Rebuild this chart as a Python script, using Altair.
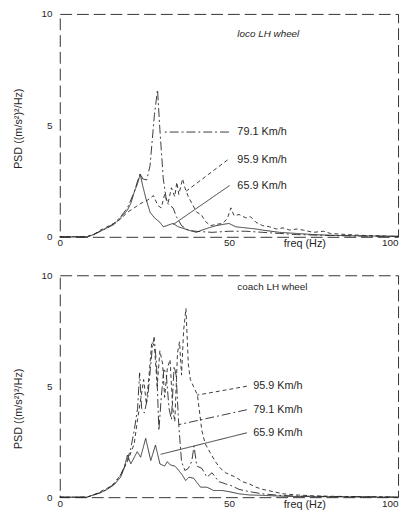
import altair as alt
import pandas as pd

SPEEDS = ["65.9 Km/h", "79.1 Km/h", "95.9 Km/h"]
DASHES = [[1, 0], [9, 3, 2, 3], [4, 3]]

# ---------------- top panel : loco LH wheel ----------------
top_f_659 = [0, 8, 10, 12, 14, 16, 18, 20, 21, 22, 23, 23.8, 24.5, 25.5, 26.7, 28, 29.6, 30.6,
             31.6, 32.5, 33.5, 35, 36.5, 38, 40.4, 42, 44, 46.2, 48, 50, 52, 55, 58, 60, 65,
             70, 75, 80, 85, 90, 95, 100]
top_v_659 = [0, 0, 0.1, 0.25, 0.4, 0.55, 0.85, 1.2, 1.5, 2.0, 2.4, 2.8, 2.3, 1.7, 1.1, 0.85,
             0.65, 0.45, 0.5, 0.55, 0.6, 0.45, 0.38, 0.3, 0.2, 0.3, 0.4, 0.5, 0.55, 0.6, 0.45,
             0.4, 0.35, 0.3, 0.2, 0.15, 0.1, 0.07, 0.05, 0.04, 0.03, 0.02]

top_f_791 = [0, 8, 10, 12, 14, 16, 18, 20, 22, 23, 23.8, 24.5, 25.7, 26.7, 27.2, 28, 28.9,
             29.6, 30.6, 31.6, 32.5, 33.5, 34.5, 36, 38, 40, 45, 50, 55, 60, 65, 70, 80, 90, 100]
top_v_791 = [0, 0, 0.1, 0.25, 0.4, 0.6, 0.9, 1.3, 2.0, 2.5, 2.85, 2.6, 2.55, 3.2, 4.1, 5.5,
             6.6, 4.8, 2.6, 1.55, 1.4, 1.3, 0.9, 0.5, 0.3, 0.25, 0.2, 0.25, 0.25, 0.2, 0.15,
             0.1, 0.06, 0.03, 0.02]

top_f_959 = [0, 8, 10, 12, 14, 16, 18, 20, 22, 24, 26, 27.7, 29, 30, 31, 32, 33, 34, 34.6,
             35.2, 36.3, 37, 38, 39.4, 40.5, 41.8, 43, 44.5, 46, 48, 49.5, 50.6, 51.5, 53, 55,
             56.4, 58, 60, 62, 64, 66, 68, 70, 72, 75, 78, 80, 85, 90, 95, 100]
top_v_959 = [0, 0, 0.1, 0.3, 0.45, 0.6, 0.8, 1.1, 1.3, 1.5, 1.65, 1.85, 1.4, 1.3, 1.9, 1.5,
             2.2, 1.8, 2.45, 1.9, 2.6, 2.2, 1.8, 1.4, 1.1, 1.0, 0.7, 0.5, 0.55, 0.6, 0.8, 1.3,
             0.95, 1.0, 0.85, 0.9, 0.65, 0.5, 0.45, 0.35, 0.4, 0.3, 0.35, 0.3, 0.2, 0.25, 0.15,
             0.1, 0.06, 0.04, 0.02]

# ---------------- bottom panel : coach LH wheel ----------------
bot_f_659 = [0, 8, 10, 12, 14, 16, 18, 19, 20, 21, 22.9, 23.9, 25.4, 26.9, 28.3, 29.6, 31,
             31.8, 32.7, 34, 34.7, 36.2, 37.2, 38.2, 39.6, 41.6, 43.5, 45.5, 48, 50, 53, 56,
             60, 65, 70, 80, 90, 100]
bot_v_659 = [0, 0, 0.1, 0.2, 0.35, 0.55, 0.9, 1.3, 1.9, 1.5, 2.05, 1.8, 2.65, 1.65, 2.35, 1.5,
             1.4, 1.6, 1.45, 1.4, 1.3, 1.0, 0.75, 0.9, 0.85, 0.45, 0.45, 0.3, 0.3, 0.25, 0.15,
             0.1, 0.08, 0.05, 0.03, 0.02, 0.01, 0]

bot_f_791 = [0, 8, 10, 12, 14, 16, 18, 20, 21, 22, 23, 23.6, 24.2, 25, 26, 26.8, 27.4, 27.9,
             28.6, 29.3, 30, 30.8, 31.5, 32.3, 33, 33.8, 34.4, 35.2, 36, 37, 38, 39, 39.7,
             40.5, 42, 43.5, 45, 47, 49, 51, 53, 56, 60, 65, 70, 80, 90, 100]
bot_v_791 = [0, 0, 0.1, 0.2, 0.35, 0.6, 1.0, 1.7, 2.2, 3.0, 4.0, 5.6, 4.0, 3.8, 4.5, 5.8, 6.8,
             7.2, 6.0, 3.0, 4.5, 5.8, 5.5, 4.0, 3.5, 5.9, 5.5, 3.2, 1.6, 1.2, 1.3, 1.6, 2.3,
             1.4, 1.3, 0.9, 1.1, 0.7, 0.6, 0.5, 0.35, 0.25, 0.15, 0.08, 0.05, 0.03, 0.02, 0]

bot_f_959 = [0, 8, 10, 12, 14, 16, 18, 20, 22, 23, 24, 24.8, 25.6, 26.4, 27.2, 28, 28.8, 29.6,
             30.4, 31, 31.8, 32.6, 33.4, 34, 34.8, 35.4, 36, 36.6, 37.3, 38, 38.6, 39.5, 40.7,
             42, 43, 44.5, 46, 47.5, 49, 50.5, 52, 54, 56, 58, 60, 63, 66, 70, 75, 80, 90, 100]
bot_v_959 = [0, 0, 0.1, 0.25, 0.4, 0.6, 1.0, 1.6, 2.4, 3.5, 4.5, 5.3, 4.2, 5.5, 7.0, 6.8, 5.0,
             6.6, 6.0, 4.5, 5.8, 6.2, 4.0, 3.4, 6.5, 7.0, 5.5, 7.5, 8.5, 6.0, 5.3, 5.0, 4.6,
             3.0, 2.4, 2.0, 1.6, 1.3, 1.1, 1.0, 0.9, 0.7, 0.6, 0.45, 0.35, 0.25, 0.15, 0.1,
             0.06, 0.04, 0.02, 0]

# ---------------- annotations ----------------
top_title = "loco LH wheel"
bot_title = "coach LH wheel"
top_title_pos = (52.5, 9.1)
bot_title_pos = (52.5, 9.45)

# leader lines: (label start freq, label psd, curve freq, curve psd)
top_leaders = {"79.1 Km/h": (50.0, 4.7, 30.6, 4.7),
               "95.9 Km/h": (49.6, 3.45, 37.4, 2.05),
               "65.9 Km/h": (50.2, 2.3, 33.5, 0.55)}
top_label_x = 52.5
bot_leaders = {"95.9 Km/h": (55.3, 5.0, 40.6, 4.6),
               "79.1 Km/h": (55.3, 3.94, 35.2, 3.27),
               "65.9 Km/h": (55.3, 2.9, 29.8, 1.93)}
bot_label_x = 57.2

FONT = "Liberation Sans"
INK = "#262626"

x_ticks = [0, 50, 100]
y_ticks = [0, 5, 10]


def curves(series):
    frames = []
    for name, (f, v) in series.items():
        frames.append(pd.DataFrame({"freq": f, "psd": v, "speed": name}))
    return pd.concat(frames, ignore_index=True)


def panel(series, leaders, label_x, title, title_pos, ytitle_y, italic, h):
    xs = alt.Scale(domain=[0, 100], nice=False)
    ys = alt.Scale(domain=[0, 10], nice=False)
    dash = alt.StrokeDash("speed:N", scale=alt.Scale(domain=SPEEDS, range=DASHES), legend=None)

    xaxis = alt.Axis(values=x_ticks, title="freq (Hz)", grid=False, domain=False, ticks=False,
                     labelFlush=False, labelPadding=1, labelFont=FONT, labelFontSize=10,
                     labelColor=INK,
                     labelAlign={"condition": {"test": "datum.value >= 100", "value": "right"},
                                 "value": "center"},
                     titleFont=FONT, titleFontSize=11, titleFontWeight="normal", titleColor=INK,
                     titleX=248, titleY=7, titleBaseline="middle", titleAlign="center")
    yaxis = alt.Axis(values=y_ticks, title="PSD ((m/s²)²/Hz)", grid=False, domain=False,
                     ticks=False, labelPadding=8, labelFont=FONT, labelFontSize=10,
                     labelColor=INK, titleFont=FONT, titleFontSize=11,
                     titleFontWeight="normal", titleColor=INK, titlePadding=18,
                     titleY=ytitle_y)

    df = curves(series)
    lines = alt.Chart(df).mark_line(color=INK, strokeWidth=0.9, interpolate="linear").encode(
        x=alt.X("freq:Q", scale=xs, axis=xaxis),
        y=alt.Y("psd:Q", scale=ys, axis=yaxis),
        strokeDash=dash,
        detail="speed:N",
        order="freq:Q",
    )

    ld = pd.DataFrame([{"speed": k, "x": v[0], "y": v[1], "x2": v[2], "y2": v[3]}
                       for k, v in leaders.items()])
    rules = alt.Chart(ld).mark_rule(color=INK, strokeWidth=0.9).encode(
        x=alt.X("x:Q", scale=xs), y=alt.Y("y:Q", scale=ys),
        x2="x2:Q", y2="y2:Q", strokeDash=dash)

    ld["lx"] = label_x
    labels = alt.Chart(ld).mark_text(align="left", baseline="middle", font=FONT,
                                     fontSize=11, color=INK).encode(
        x=alt.X("lx:Q", scale=xs), y=alt.Y("y:Q", scale=ys), text="speed:N")

    td = pd.DataFrame({"x": [title_pos[0]], "y": [title_pos[1]], "t": [title]})
    ttl = alt.Chart(td).mark_text(align="left", baseline="middle", font=FONT, fontSize=10,
                                  color=INK, fontStyle="italic" if italic else "normal").encode(
        x=alt.X("x:Q", scale=xs), y=alt.Y("y:Q", scale=ys), text="t:N")

    return alt.layer(lines, rules, labels, ttl).properties(
        width=343, height=h,
        view=alt.ViewBackground(stroke="#333333", strokeWidth=1, strokeDash=[12, 5]))


top = panel({"65.9 Km/h": (top_f_659, top_v_659), "79.1 Km/h": (top_f_791, top_v_791),
             "95.9 Km/h": (top_f_959, top_v_959)},
            top_leaders, top_label_x, top_title, top_title_pos, 116, True, 226)
bot = panel({"65.9 Km/h": (bot_f_659, bot_v_659), "79.1 Km/h": (bot_f_791, bot_v_791),
             "95.9 Km/h": (bot_f_959, bot_v_959)},
            bot_leaders, bot_label_x, bot_title, bot_title_pos, 135, False, 225)

chart = alt.vconcat(top, bot, spacing=39, bounds="flush").properties(
    padding={"left": 3.5, "top": -3.5, "right": 0, "bottom": -4},
    background="white",
)

chart.save("out.html", embed_options={"renderer": "svg", "actions": False})
